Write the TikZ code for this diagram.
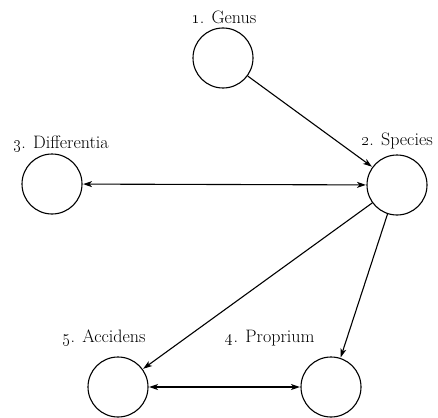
\documentclass[tikz,border=0pt]{standalone}
\usepackage{tikz}
\usetikzlibrary{arrows.meta}

\begin{document}
\begin{tikzpicture}[x=1pt, y=-1pt, line width=1.1pt,
    >={Stealth[length=9pt, width=6pt, inset=2.5pt]},
    term/.style={circle, draw, minimum size=60pt, inner sep=0pt},
    termlabel/.style={anchor=base, font=\fontsize{18}{21}\selectfont},
    link/.style={->, shorten >=0.5pt}]
\useasboundingbox (0,0) rectangle (438,417);
%%%%% Terms %%%%%
\node[term] (genus) at (223,58) {};
\node[term] (species) at (397,185) {};
\node[term] (differentia) at (52,184) {};
\node[term] (proprium) at (331,387) {};
\node[term] (accidens) at (118,387) {};
%%%%% Labels %%%%%
\node[termlabel] (lgenus) at (224,24) {\oldstylenums{1}. Genus};
\node[termlabel] (lspecies) at (397,145) {\oldstylenums{2}. Species};
\node[termlabel] (ldifferentia) at (61,148) {\oldstylenums{3}. Differentia};
\node[termlabel] (lproprium) at (270,342) {\oldstylenums{4}. Proprium};
\node[termlabel] (laccidens) at (104,342) {\oldstylenums{5}. Accidens};
%%%%% Links %%%%%
\draw[link] (genus)--(species);
\draw[link, <->, shorten <=0.5pt] (differentia)--(species);
\draw[link] (species)--(accidens);
\draw[link] (species)--(proprium);
\draw[link, <->, shorten <=0.5pt] (accidens)--(proprium);
\end{tikzpicture}
\end{document}
